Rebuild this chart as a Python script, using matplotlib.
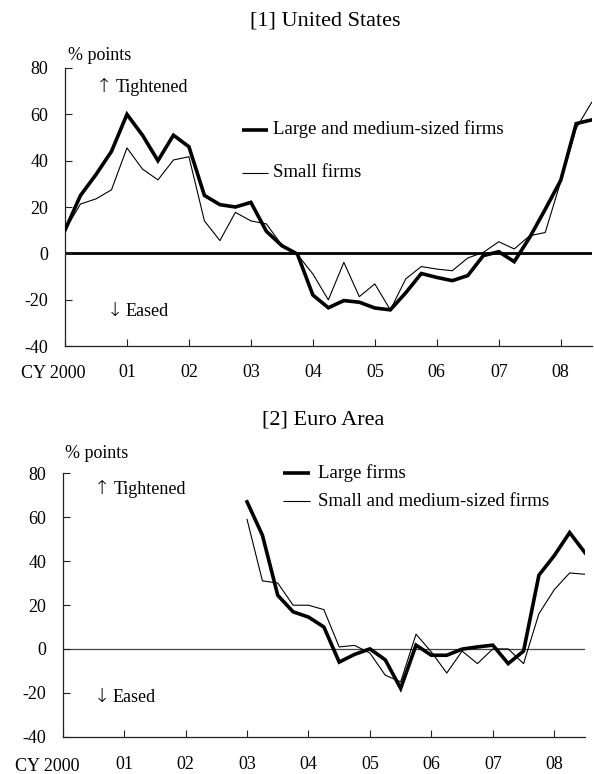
import matplotlib
matplotlib.use("Agg")
import matplotlib.pyplot as plt
import numpy as np

plt.rcParams['font.family'] = ['Liberation Serif', 'DejaVu Serif']
plt.rcParams['axes.unicode_minus'] = False

# Quarterly index: 0 = 2000Q1 ... 34 = 2008Q3
year_ticks = [0, 4, 8, 12, 16, 20, 24, 28, 32]
year_labels = ['', '01', '02', '03', '04', '05', '06', '07', '08']

# [1] United States (2000Q1 - 2008Q3)
us_large_medium = [10, 25, 34, 44, 60, 51, 40, 51, 46, 25, 21, 20, 22, 9.5, 3.3, -0.3,
                   -18, -23.5, -20.4, -21.1, -23.6, -24.4, -17, -8.7, -10.4, -11.8,
                   -9.6, -1, 0.7, -3.6, 6.9, 19, 31.5, 56, 57.6]
us_small = [10, 21.3, 23.5, 27.4, 45.5, 36.4, 31.7, 40.3, 41.7, 14, 5.5, 17.7, 14, 12.7, 3.5, -0.5,
            -8.9, -20.1, -3.9, -18.7, -13.2, -24.4, -11, -5.7, -6.8, -7.5,
            -2, 0.4, 5, 1.9, 7.6, 9, 31, 54, 65.2]

# [2] Euro Area (2003Q1 - 2008Q3)
ea_start = 12
ea_large = [67, 51.8, 24.4, 16.9, 14.5, 10, -6, -2.5, 0, -5, -18, 1.7, -2.9, -2.9,
            -0.1, 0.9, 1.7, -6.7, -1, 33.6, 42.5, 53, 43.8]
ea_small_medium = [59, 31, 30, 19.9, 19.9, 17.9, 0.9, 1.6, -1.9, -12, -15, 6.7, -1.4, -11,
                   -1, -6.7, 0, 0, -6.7, 16, 27, 34.6, 34]

FS = 13

fig = plt.figure(figsize=(5.94, 7.74), dpi=100)
W, H = 594.0, 774.0


def make_axes(left_px, right_px, top_px, bottom_px):
    return fig.add_axes([left_px / W, 1 - bottom_px / H,
                         (right_px - left_px) / W, (bottom_px - top_px) / H])


def style(ax, pad_x, zero_lw, zero_color, cy_offset):
    ax.set_xlim(0, 34)
    ax.set_ylim(-40, 80)
    ax.set_yticks(np.arange(-40, 81, 20))
    ax.set_xticks(year_ticks)
    ax.set_xticklabels(year_labels)
    for s in ['top', 'right']:
        ax.spines[s].set_visible(False)
    for s in ['left', 'bottom']:
        ax.spines[s].set_linewidth(0.9)
        ax.spines[s].set_color('#222222')
    ax.tick_params(axis='x', direction='in', length=5, width=0.8, pad=pad_x,
                   labelsize=FS, colors='#222222', labelcolor='black')
    ax.tick_params(axis='y', direction='in', length=5, width=0.8, pad=12,
                   labelsize=FS, colors='#222222', labelcolor='black')
    ax.axhline(0, color=zero_color, lw=zero_lw, zorder=1)
    ax.annotate('CY 2000', xy=(0, 0), xycoords=('data', 'axes fraction'),
                xytext=(cy_offset, -pad_x - 1), textcoords='offset points',
                ha='center', va='top', fontsize=FS)


def arrow_label(arrow_x, text_x, ypx, arrow, label):
    fig.text(arrow_x / W, 1 - ypx / H, arrow, ha='center', va='center', fontsize=FS + 1,
             family=['DejaVu Sans'], fontweight='light')
    fig.text(text_x / W, 1 - ypx / H, label, ha='left', va='center', fontsize=FS)


# ---------- Top panel ----------
ax1 = make_axes(65, 591.7, 68, 346)
style(ax1, 13, 2.0, 'black', -8.5)
x_us = np.arange(len(us_large_medium))
ax1.plot(x_us, us_small, color='black', lw=0.8, zorder=3)
ax1.plot(x_us, us_large_medium, color='black', lw=2.6, zorder=4, solid_joinstyle='miter')
fig.text(325 / W, 1 - 21 / H, '[1] United States', ha='center', va='center', fontsize=16)
fig.text(68 / W, 1 - 55 / H, '% points', ha='left', va='center', fontsize=FS)
arrow_label(104, 116, 87, '\u2191', 'Tightened')
arrow_label(115, 126, 311, '\u2193', 'Eased')
# legend
lx0, lx1 = (242 - 65) / 15.49, (268 - 65) / 15.49
ax1.plot([lx0, lx1], [53.3, 53.3], color='black', lw=2.6, solid_capstyle='butt')
ax1.plot([lx0, lx1], [34.8, 34.8], color='black', lw=0.8, solid_capstyle='butt')
fig.text(273 / W, 1 - 129.5 / H, 'Large and medium-sized firms', ha='left', va='center', fontsize=13.5)
fig.text(273 / W, 1 - 172.5 / H, 'Small firms', ha='left', va='center', fontsize=13.5)

# ---------- Bottom panel ----------
ax2 = make_axes(62.7, 585, 473.3, 736.7)
style(ax2, 14, 0.9, '#444444', -11)
x_ea = np.arange(ea_start, ea_start + len(ea_large))
ax2.plot(x_ea, ea_small_medium, color='black', lw=0.8, zorder=3)
ax2.plot(x_ea, ea_large, color='black', lw=2.6, zorder=4, solid_joinstyle='miter')
fig.text(323 / W, 1 - 420 / H, '[2] Euro Area', ha='center', va='center', fontsize=16)
fig.text(65 / W, 1 - 453 / H, '% points', ha='left', va='center', fontsize=FS)
arrow_label(102, 114, 489, '\u2191', 'Tightened')
arrow_label(102, 113, 697, '\u2193', 'Eased')
lx0b, lx1b = (283 - 62.7) / 15.36, (310 - 62.7) / 15.36
ax2.plot([lx0b, lx1b], [80.2, 80.2], color='black', lw=2.6, solid_capstyle='butt', clip_on=False)
ax2.plot([lx0b, lx1b], [67.2, 67.2], color='black', lw=0.8, solid_capstyle='butt')
fig.text(318 / W, 1 - 472.7 / H, 'Large firms', ha='left', va='center', fontsize=13.5)
fig.text(318 / W, 1 - 501.5 / H, 'Small and medium-sized firms', ha='left', va='center', fontsize=13.5)

fig.savefig('out.png', dpi=100)
